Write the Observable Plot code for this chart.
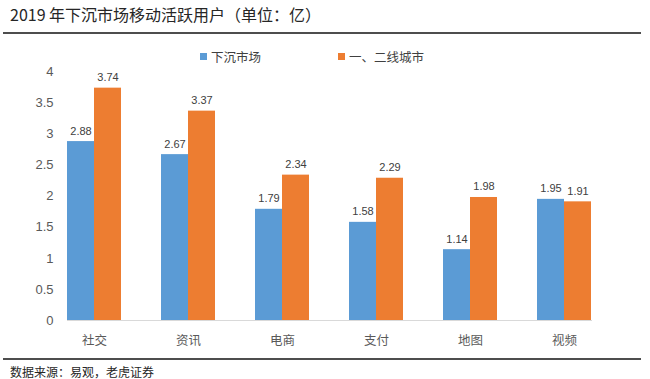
<!DOCTYPE html>
<html>
<head>
<meta charset="utf-8">
<script src="https://cdn.jsdelivr.net/npm/d3@7"></script>
<script src="https://cdn.jsdelivr.net/npm/@observablehq/plot@0.6"></script>
<style>
  html, body { margin: 0; padding: 0; background: #fff; }
  body { width: 650px; height: 379px; position: relative; overflow: hidden;
         font-family: "Noto Sans CJK SC", "Microsoft YaHei", sans-serif; }
  #title { position: absolute; left: 10px; top: 2px; font-size: 16px; color: #262626; white-space: nowrap; }
  .rule { position: absolute; left: 3px; width: 638px; height: 2px; background: #4d4d4d; }
  #legend { position: absolute; top: 47px; left: 0; width: 650px; height: 18px; font-size: 12.5px; color: #404040; }
  .lg { position: absolute; top: 0; display: flex; align-items: center; white-space: nowrap; }
  .sw { width: 7px; height: 7px; margin-right: 4px; }
  #chart { position: absolute; left: 0; top: 62px; }
  #caption { position: absolute; left: 10px; top: 363px; font-size: 12px; color: #262626; white-space: nowrap; }
</style>
</head>
<body>
<div id="title"></div>
<div class="rule" style="top:32px"></div>
<div id="legend"></div>
<div id="chart"></div>
<div class="rule" style="top:358px"></div>
<div id="caption"></div>
<script>
const titleText = "2019 年下沉市场移动活跃用户（单位：亿）";
const captionText = "数据来源：易观，老虎证券";
const categories = ["社交", "资讯", "电商", "支付", "地图", "视频"];
const seriesNames = ["下沉市场", "一、二线城市"];
const lowerTier = [2.88, 2.67, 1.79, 1.58, 1.14, 1.95];
const upperTier = [3.74, 3.37, 2.34, 2.29, 1.98, 1.91];
const yTicks = [0, 0.5, 1, 1.5, 2, 2.5, 3, 3.5, 4];
const colors = ["#5B9BD5", "#ED7D31"];

document.getElementById("title").textContent = titleText;
document.getElementById("caption").textContent = captionText;

const legend = document.getElementById("legend");
const legendX = [200, 338];
seriesNames.forEach((s, i) => {
  const el = document.createElement("div");
  el.className = "lg";
  el.style.left = legendX[i] + "px";
  el.innerHTML = `<div class="sw" style="background:${colors[i]}"></div><span>${s}</span>`;
  legend.appendChild(el);
});

const data = [];
categories.forEach((c, i) => {
  data.push({cat: c, series: seriesNames[0], value: lowerTier[i]});
  data.push({cat: c, series: seriesNames[1], value: upperTier[i]});
});

const chart = Plot.plot({
  width: 650,
  height: 290,
  marginLeft: 47,
  marginRight: 39,
  marginTop: 9.5,
  marginBottom: 32,
  style: {fontFamily: "'Liberation Sans', Arial, sans-serif", background: "transparent"},
  fx: {domain: categories, paddingInner: 0.43, paddingOuter: 0.215, label: null},
  x: {domain: seriesNames, padding: 0, axis: null},
  y: {domain: [0, 4], ticks: yTicks, label: null},
  color: {domain: seriesNames, range: colors},
  marks: [
    Plot.axisY({ticks: yTicks, tickSize: 0, tickPadding: 14, tickFormat: d => String(d),
      fontSize: 13, color: "#595959", label: null}),
    Plot.axisFx({anchor: "bottom", tickSize: 0, tickPadding: 16, fontSize: 12.5, color: "#595959", label: null,
      fontFamily: "'Noto Sans CJK SC', 'Microsoft YaHei', sans-serif"}),
    Plot.barY(data, {fx: "cat", x: "series", y: "value", fill: "series", inset: 0}),
    Plot.text(data, {fx: "cat", x: "series", y: "value", text: d => d.value.toFixed(2),
      lineAnchor: "bottom", dy: -7, fontSize: 11, fill: "#404040"}),
    Plot.frame({anchor: "bottom", facet: "super", stroke: "#D9D9D9", strokeWidth: 1})
  ]
});
document.getElementById("chart").appendChild(chart);
</script>
</body>
</html>
